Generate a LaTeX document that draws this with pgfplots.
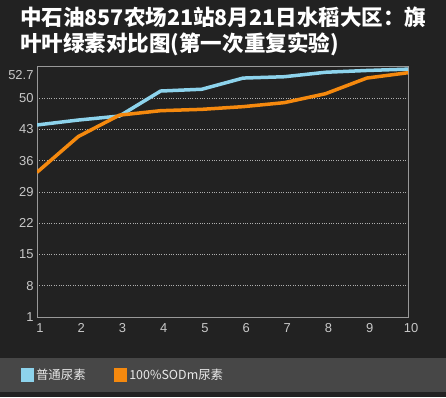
\documentclass[border=0pt]{standalone}
\usepackage{fontspec}
\usepackage{pgfplots}
\pgfplotsset{compat=1.18}
\setmainfont{Liberation Sans}
\newfontfamily\cjk{Noto Sans CJK SC}
\definecolor{bg}{HTML}{222222}
\definecolor{band}{HTML}{474747}
\definecolor{gridc}{HTML}{B0B0B0}
\definecolor{axisc}{HTML}{999999}
\definecolor{tickc}{HTML}{C8C8C8}
\definecolor{blueline}{HTML}{8DD3EC}
\definecolor{orangeline}{HTML}{F5890E}
\definecolor{legc}{HTML}{E8E8E8}
\begin{document}
\begin{tikzpicture}[x=1bp,y=1bp]
\fill[bg] (0,0) rectangle (446,-397);
\fill[band] (0,-358) rectangle (446,-392);
\node[anchor=west, text=white, font=\cjk\bfseries\fontsize{21.6}{24}\selectfont, inner sep=0] at (20,-17) {中石油857农场21站8月21日水稻大区：旗};
\node[anchor=west, text=white, font=\cjk\bfseries\fontsize{21.6}{24}\selectfont, inner sep=0] at (20,-44) {叶叶绿素对比图(第一次重复实验)};
\begin{axis}[
  at={(37bp,-317bp)}, anchor=south west,
  scale only axis, width=371bp, height=251bp,
  xmin=1, xmax=10, ymin=1, ymax=57.2,
  xtick={1,...,10}, ytick={1,8,15,22,29,36,43,50},
  extra y ticks={55.2}, extra y tick labels={52.7},
  extra y tick style={grid=none},
  ymajorgrids, grid style={dotted, color=gridc, line width=0.8pt},
  axis line style={color=axisc, line width=1pt},
  tick style={draw=none},
  ticklabel style={color=tickc, font=\fontsize{13}{15}\selectfont},
  xticklabel style={xshift=3bp, yshift=-3bp},
  /pgf/number format/assume math mode=true,
  legend style={at={(-0.053,-0.231)}, anchor=west, draw=none, fill=none,
    text=legc, font=\cjk\fontsize{12.5}{14}\selectfont,
    /tikz/every even column/.append style={column sep=26bp}},
  legend columns=2,
  legend image code/.code={\fill[#1] (0bp,-5bp) rectangle (10bp,5bp);},
]
\addplot[color=blueline, line width=3.5bp] coordinates {
(1,44.0) (2,45.1) (3,46.0) (4,51.6) (5,52.0) (6,54.5) (7,54.8) (8,55.8) (9,56.2) (10,56.5)};
\addlegendentry{普通尿素}
\addplot[color=orangeline, line width=3.5bp] coordinates {
(1,33.4) (2,41.4) (3,46.2) (4,47.2) (5,47.5) (6,48.1) (7,49.0) (8,51.0) (9,54.5) (10,55.7)};
\addlegendentry{100\%SODm尿素}
\end{axis}
\end{tikzpicture}
\end{document}
